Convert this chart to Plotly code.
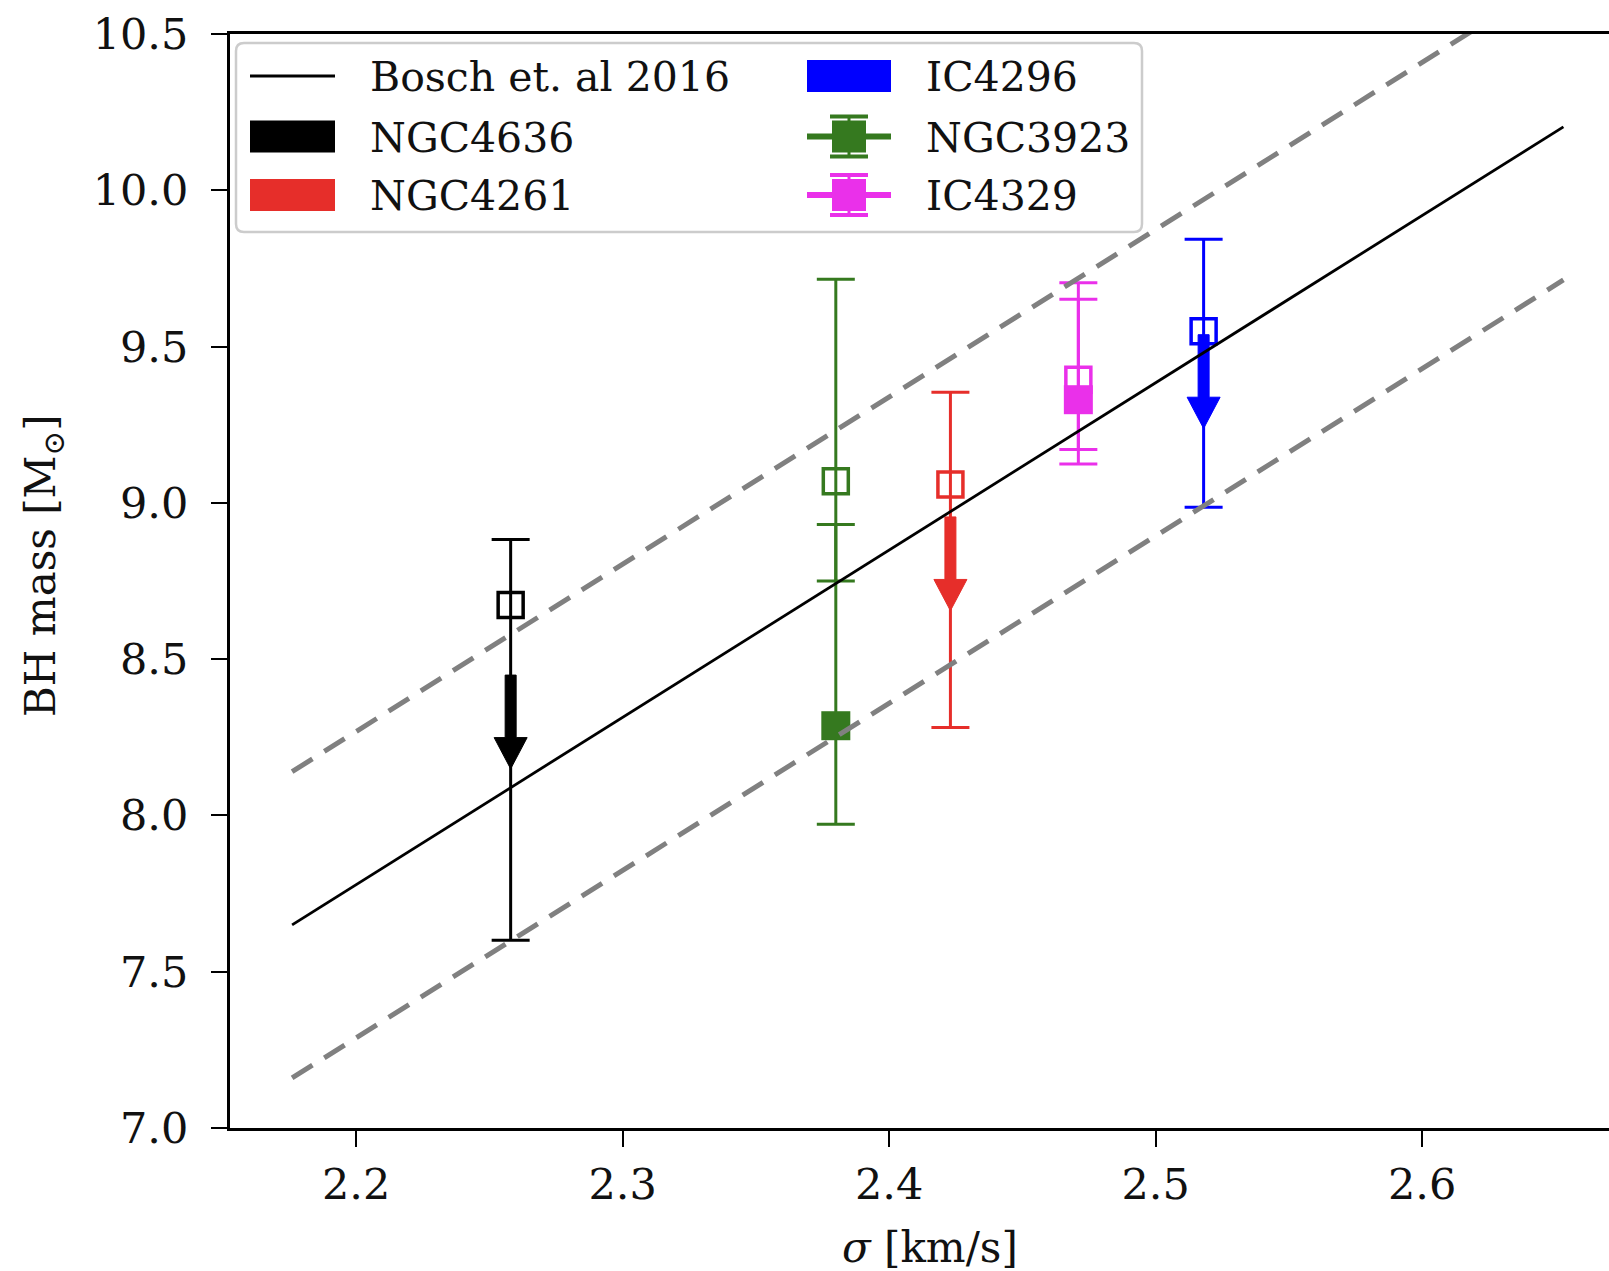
import plotly.graph_objects as go

# ---------------- data ----------------
galaxies = ["NGC4636", "NGC3923", "NGC4261", "IC4329", "IC4296"]
colors = ["#000000", "#35791f", "#e62e2a", "#ea30ea", "#0000ff"]
log_sigma = [2.258, 2.380, 2.423, 2.471, 2.518]

# open-square estimates
open_mass = [8.673, 9.069, 9.059, 9.394, 9.549]
open_err_plus = [0.210, 0.646, 0.295, 0.310, 0.294]
open_err_minus = [1.072, 0.319, 0.778, 0.223, 0.563]

# filled-square estimates (only two galaxies)
filled_names = ["NGC3923", "IC4329"]
filled_sigma = [2.380, 2.471]
filled_mass = [8.287, 9.330]
filled_err_plus = [0.644, 0.321]
filled_err_minus = [0.315, 0.206]

# upper-limit arrows
arrow_names = ["NGC4636", "NGC4261", "IC4296"]
arrow_sigma = [2.258, 2.423, 2.518]
arrow_start = [8.449, 8.955, 9.538]
arrow_length = [0.300, 0.300, 0.300]

# van den Bosch 2016 relation (end points) and +/- scatter
bosch_x = [2.176, 2.653]
bosch_y = [7.650, 10.203]
upper_y = [8.140, 10.693]
lower_y = [7.160, 9.713]

x_ticks = [2.2, 2.3, 2.4, 2.5, 2.6]
y_ticks = [7.0, 7.5, 8.0, 8.5, 9.0, 9.5, 10.0, 10.5]
x_range = [2.1527, 2.6701]
y_range = [7.0, 10.5]

# ---------------- layout geometry ----------------
W, H = 1609, 1271
L, R, T, B = 230, 0, 34, 143
PW, PH = W - L - R, H - T - B
FONT = "DejaVu Serif"
TXT = "#111111"

def px(x):
    return (x - L) / PW

def py(y):
    return (H - B - y) / PH

col = dict(zip(galaxies, colors))
fig = go.Figure()

# open squares with error bars
for g, c, x, m, ep, em in zip(galaxies, colors, log_sigma, open_mass, open_err_plus, open_err_minus):
    fig.add_trace(go.Scatter(
        x=[x], y=[m], mode="markers", showlegend=False,
        marker=dict(symbol="square-open", size=25, color=c, line=dict(width=3.5, color=c)),
        error_y=dict(type="data", symmetric=False, array=[ep], arrayminus=[em],
                     color=c, thickness=3, width=19),
    ))

# filled squares with error bars
for g, x, m, ep, em in zip(filled_names, filled_sigma, filled_mass, filled_err_plus, filled_err_minus):
    c = col[g]
    fig.add_trace(go.Scatter(
        x=[x], y=[m], mode="markers", showlegend=False,
        marker=dict(symbol="square", size=29, color=c, line=dict(width=0)),
        error_y=dict(type="data", symmetric=False, array=[ep], arrayminus=[em],
                     color=c, thickness=3, width=19),
    ))

# upper limit arrows (filled polygons)
dx_per_px = (x_range[1] - x_range[0]) / PW
shaft_hw = 5.5 * dx_per_px
head_hw = 16.5 * dx_per_px
head_len = 0.10
for g, x, s, ln in zip(arrow_names, arrow_sigma, arrow_start, arrow_length):
    c = col[g]
    tip = s - ln
    hb = tip + head_len
    xs = [x - shaft_hw, x + shaft_hw, x + shaft_hw, x + head_hw, x, x - head_hw, x - shaft_hw, x - shaft_hw]
    ys = [s, s, hb, hb, tip, hb, hb, s]
    fig.add_trace(go.Scatter(x=xs, y=ys, mode="lines", fill="toself", fillcolor=c,
                             line=dict(color=c, width=1), showlegend=False, hoverinfo="skip"))

# relation lines
fig.add_trace(go.Scatter(x=bosch_x, y=upper_y, mode="lines", showlegend=False,
                         line=dict(color="#808080", width=5, dash="24px,14px")))
fig.add_trace(go.Scatter(x=bosch_x, y=lower_y, mode="lines", showlegend=False,
                         line=dict(color="#808080", width=5, dash="24px,14px")))
fig.add_trace(go.Scatter(x=bosch_x, y=bosch_y, mode="lines", showlegend=False,
                         line=dict(color="black", width=2.8)))

# ---------------- manual legend ----------------
shapes = []
annotations = []

# legend frame (rounded)
bx0, bx1, by0, by1, rr = 236, 1142, 43, 232, 8
def pp(x, y):
    # pixel offsets relative to plot top-left, y positive up
    return f"{x - L},{T - y}"
path = (f"M {pp(bx0 + rr, by0)} L {pp(bx1 - rr, by0)} Q {pp(bx1, by0)} {pp(bx1, by0 + rr)} "
        f"L {pp(bx1, by1 - rr)} Q {pp(bx1, by1)} {pp(bx1 - rr, by1)} "
        f"L {pp(bx0 + rr, by1)} Q {pp(bx0, by1)} {pp(bx0, by1 - rr)} "
        f"L {pp(bx0, by0 + rr)} Q {pp(bx0, by0)} {pp(bx0 + rr, by0)} Z")
shapes.append(dict(type="path", xref="paper", yref="paper", xsizemode="pixel", ysizemode="pixel",
                   xanchor=0, yanchor=1, path=path,
                   fillcolor="rgba(255,255,255,0.85)", line=dict(color="#cccccc", width=2.5)))

rows = [76, 136.5, 195]
c1x0, c1x1, c1t = 250, 335, 368
c2x0, c2x1, c2t = 807, 891, 924
ph = 16

legend_items = [
    ("Bosch et. al 2016", "line", "black", 0, 0),
    ("NGC4636", "patch", col["NGC4636"], 0, 1),
    ("NGC4261", "patch", col["NGC4261"], 0, 2),
    ("IC4296", "patch", col["IC4296"], 1, 0),
    ("NGC3923", "err", col["NGC3923"], 1, 1),
    ("IC4329", "err", col["IC4329"], 1, 2),
]
for label, kind, c, ci, ri in legend_items:
    x0, x1, tx = (c1x0, c1x1, c1t) if ci == 0 else (c2x0, c2x1, c2t)
    yc = rows[ri]
    if kind == "line":
        shapes.append(dict(type="line", xref="paper", yref="paper", x0=px(x0), x1=px(x1),
                           y0=py(yc), y1=py(yc), line=dict(color=c, width=2.8)))
    elif kind == "patch":
        shapes.append(dict(type="rect", xref="paper", yref="paper", x0=px(x0), x1=px(x1),
                           y0=py(yc - ph), y1=py(yc + ph), fillcolor=c, line=dict(width=0)))
    else:
        xm = (x0 + x1) / 2
        shapes.append(dict(type="line", xref="paper", yref="paper", x0=px(x0), x1=px(x1),
                           y0=py(yc), y1=py(yc), line=dict(color=c, width=6)))
        shapes.append(dict(type="line", xref="paper", yref="paper", x0=px(xm), x1=px(xm),
                           y0=py(yc - 20), y1=py(yc + 20), line=dict(color=c, width=3)))
        for cy in (yc - 20, yc + 20):
            shapes.append(dict(type="line", xref="paper", yref="paper", x0=px(xm - 19), x1=px(xm + 19),
                               y0=py(cy), y1=py(cy), line=dict(color=c, width=4)))
        shapes.append(dict(type="rect", xref="paper", yref="paper", x0=px(xm - 17), x1=px(xm + 17),
                           y0=py(yc - 16), y1=py(yc + 16), fillcolor=c, line=dict(width=0)))
    annotations.append(dict(text=label, xref="paper", yref="paper", x=px(tx), y=py(yc + 1),
                            xanchor="left", yanchor="middle", showarrow=False,
                            font=dict(family=FONT, size=41, color=TXT)))

# axis titles
annotations.append(dict(text="BH mass [M<sub>⊙</sub>]", xref="paper", yref="paper",
                        x=px(43), y=py(566), textangle=-90, xanchor="center", yanchor="middle",
                        showarrow=False, font=dict(family=FONT, size=42, color=TXT)))
annotations.append(dict(text="<i>σ</i> [km/s]", xref="paper", yref="paper",
                        x=px(930), y=py(1247), xanchor="center", yanchor="middle",
                        showarrow=False, font=dict(family=FONT, size=42, color=TXT)))

fig.update_layout(
    width=W, height=H,
    margin=dict(l=L, r=R, t=T, b=B, pad=0),
    paper_bgcolor="white", plot_bgcolor="white",
    shapes=shapes, annotations=annotations,
    showlegend=False,
    xaxis=dict(range=x_range, tickvals=x_ticks, ticktext=[f"{v:.1f}" for v in x_ticks],
               showgrid=False, zeroline=False, showline=True, linecolor="black", linewidth=3,
               mirror=True, ticks="outside", ticklen=16, tickwidth=2, tickcolor="black",
               ticklabelstandoff=0,
               tickfont=dict(family=FONT, size=43, color=TXT)),
    yaxis=dict(range=y_range, tickvals=y_ticks, ticktext=[f"{v:.1f}" for v in y_ticks],
               showgrid=False, zeroline=False, showline=True, linecolor="black", linewidth=3,
               mirror=False, ticks="outside", ticklen=16, tickwidth=2, tickcolor="black",
               ticklabelstandoff=14,
               tickfont=dict(family=FONT, size=43, color=TXT)),
)

fig.write_html("out.html")
